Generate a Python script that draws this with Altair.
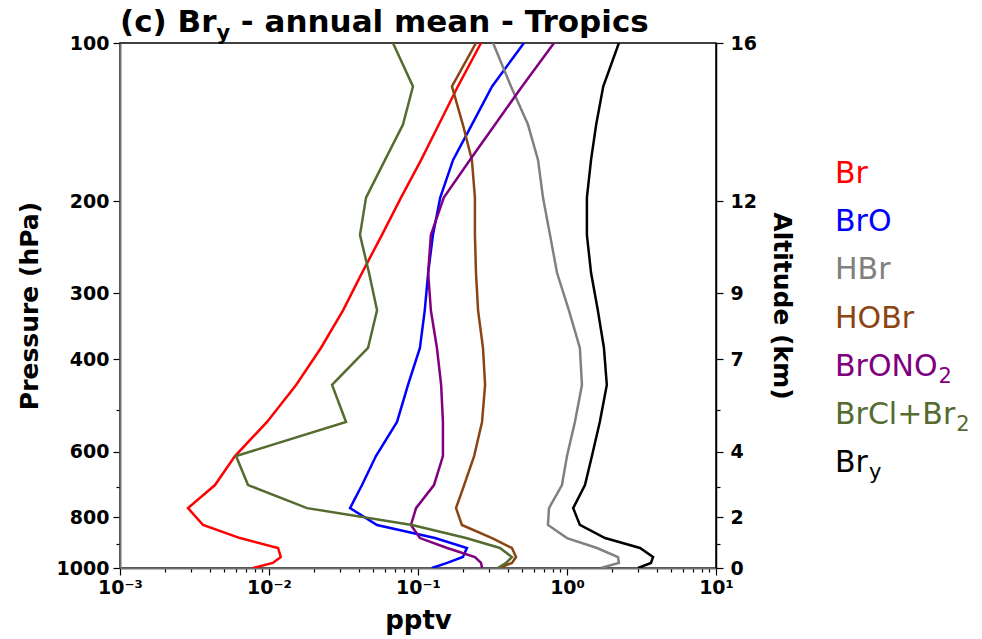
import altair as alt
import pandas as pd

# ---------------- data ----------------
pressure_hpa = [100, 121, 143, 167, 197, 232, 274, 323, 381, 448, 527, 612,
                695, 769, 828, 877, 916, 953, 978, 1000]

br = [0.265, 0.185, 0.138, 0.105, 0.0769, 0.0573, 0.0421, 0.0314, 0.0223, 0.0152,
      0.0097, 0.00591, 0.00434, 0.00286, 0.00361, 0.00639, 0.0115, 0.0120, 0.0106, 0.00781]
bro = [0.514, 0.314, 0.230, 0.172, 0.141, 0.126, 0.117, 0.111, 0.103, 0.0857,
       0.0723, 0.0522, 0.0421, 0.0350, 0.0531, 0.130, 0.213, 0.200, 0.157, 0.124]
hbr = [0.319, 0.421, 0.547, 0.639, 0.690, 0.769, 0.857, 1.03, 1.22, 1.26,
       1.13, 1.00, 0.925, 0.757, 0.745, 1.00, 1.59, 2.20, 2.23, 1.69]
hobr = [0.245, 0.169, 0.200, 0.230, 0.241, 0.241, 0.245, 0.253, 0.273, 0.282,
        0.269, 0.238, 0.204, 0.180, 0.197, 0.314, 0.427, 0.455, 0.427, 0.350]
brono2 = [0.818, 0.499, 0.329, 0.223, 0.149, 0.122, 0.117, 0.122, 0.134, 0.143,
          0.147, 0.147, 0.128, 0.0970, 0.0897, 0.103, 0.157, 0.241, 0.265, 0.269]
brcl_br2 = [0.0679, 0.0925, 0.0793, 0.0601, 0.0448, 0.0408, 0.0469, 0.0531, 0.0462, 0.0265,
            0.0329, 0.00601, 0.00723, 0.0180, 0.0912, 0.210, 0.355, 0.427, 0.390, 0.344]
bry = [2.23, 1.75, 1.57, 1.45, 1.36, 1.36, 1.45, 1.61, 1.77, 1.85,
       1.66, 1.47, 1.32, 1.10, 1.22, 1.80, 3.09, 3.78, 3.66, 3.00]

species = ["Br", "BrO", "HBr", "HOBr", "BrONO2", "BrCl+Br2", "Bry"]
series = [br, bro, hbr, hobr, brono2, brcl_br2, bry]
# legend label = main part + subscript part
legend_main = ["Br", "BrO", "HBr", "HOBr", "BrONO", "BrCl+Br", "Br"]
legend_sub = ["", "", "", "", "2", "2", "y"]
colors = ["#ff0000", "#0000ff", "#808080", "#8b4513", "#800080", "#556b2f", "#000000"]

x_major = [0.001, 0.01, 0.1, 1, 10]
x_major_labels = ["10\u207b\u00b3", "10\u207b\u00b2", "10\u207b\u00b9", "10\u2070", "10\u00b9"]
x_minor_mult = [2, 3, 4, 5, 6, 7, 8, 9]

p_major = [100, 200, 300, 400, 600, 800, 1000]
p_minor = [500, 700, 900]
alt_km = [16, 12, 9, 7, 4, 2, 0]

title_main = "(c) Br"
title_sub = "y"
title_rest = "- annual mean - Tropics"

# ---------------- build table ----------------
rows = []
for name, vals in zip(species, series):
    for i, (p, v) in enumerate(zip(pressure_hpa, vals)):
        rows.append({"species": name, "p": p, "v": v, "i": i})
df = pd.DataFrame(rows)

FONT = "DejaVu Sans"
W, H = 596, 525

x_vals = list(x_major)
for d in x_major[:-1]:
    for m in x_minor_mult:
        x_vals.append(round(m * d, 6))
x_label_expr = " : ".join(
    f"datum.value == {v} ? '{l}'" for v, l in zip(x_major, x_major_labels)
) + " : ''"
x_major_test = "indexof([" + ",".join(str(v) for v in x_major) + "], datum.value) >= 0"

y_vals = sorted(p_major + p_minor)
y_major_test = "indexof([" + ",".join(str(v) for v in p_major) + "], datum.value) >= 0"
left_label_expr = f"{y_major_test} ? datum.label : ''"
right_label_expr = " : ".join(
    f"datum.value == {p} ? '{k}'" for p, k in zip(p_major, alt_km)
) + " : ''"

x_scale = alt.Scale(type="log", domain=[0.001, 10], nice=False)
y_scale = alt.Scale(type="log", domain=[100, 1000], reverse=True, nice=False)

lines = alt.Chart(df).mark_line(strokeWidth=2.5, clip=True).encode(
    x=alt.X("v:Q", scale=x_scale, title="pptv",
            axis=alt.Axis(values=x_vals, labelExpr=x_label_expr,
                          tickSize={"condition": {"test": x_major_test, "value": 7}, "value": 4},
                          labelFontSize=19, labelFontWeight="bold", labelPadding=3,
                          titleFontSize=26, titleFontWeight="bold", titlePadding=10,
                          domainColor="#707070", domainWidth=2, tickColor="#000000",
                          tickWidth=1.2, grid=False, labelFlush=False, labelOverlap=False)),
    y=alt.Y("p:Q", scale=y_scale, title="Pressure (hPa)",
            axis=alt.Axis(values=y_vals, format="d", labelExpr=left_label_expr,
                          tickSize={"condition": {"test": y_major_test, "value": 7}, "value": 4},
                          labelFontSize=19, labelFontWeight="bold", labelPadding=4,
                          titleFontSize=25, titleFontWeight="bold", titlePadding=14,
                          domainColor="#707070", domainWidth=2, tickColor="#000000",
                          tickWidth=1.2, grid=False, labelOverlap=False)),
    color=alt.Color("species:N", scale=alt.Scale(domain=species, range=colors), legend=None),
    order=alt.Order("i:Q"),
    detail="species:N",
)

right_axis = alt.Chart(df).mark_line(opacity=0).encode(
    x=alt.X("v:Q", scale=x_scale),
    y=alt.Y("p:Q", scale=y_scale, title="Altitude (km)",
            axis=alt.Axis(orient="right", values=y_vals, labelExpr=right_label_expr,
                          tickSize={"condition": {"test": y_major_test, "value": 7}, "value": 4},
                          labelFontSize=19, labelFontWeight="bold", labelPadding=7,
                          titleFontSize=25, titleFontWeight="bold", titlePadding=12,
                          domainColor="#000000", domainWidth=1.5, tickColor="#000000",
                          tickWidth=1.2, grid=False, labelOverlap=False)),
    order=alt.Order("i:Q"),
    detail="species:N",
)

one = pd.DataFrame({"k": [0]})

def txt(s, x, y, size, weight="normal", color="#000000"):
    return alt.Chart(one).mark_text(
        text=s, font=FONT, fontSize=size, fontWeight=weight, color=color,
        align="left", baseline="alphabetic"
    ).encode(x=alt.value(x), y=alt.value(y))

# approximate advance widths (em) of DejaVu Sans glyphs used for placing subscripts
BOLD_W = {"(": .457, "c": .592, ")": .457, " ": .348, "B": .762, "r": .493, "y": .652}
REG_W = {"B": .686, "r": .411, "O": .787, "N": .748, "C": .698, "l": .278, "+": .838}

# title (with subscript y)
title_size = 31
sub_size = 21
t1_w = sum(BOLD_W[ch] for ch in title_main) * title_size
t3_x = t1_w + BOLD_W["y"] * sub_size + BOLD_W[" "] * title_size
title_layers = [
    txt(title_main, 0, -11, title_size, "bold"),
    txt(title_sub, t1_w, -3, sub_size, "bold"),
    txt(title_rest, t3_x, -11, title_size, "bold"),
]

# legend as coloured labels
leg_layers = []
for i, (lab, sub, col) in enumerate(zip(legend_main, legend_sub, colors)):
    yb = 140 + 48.2 * i
    leg_layers.append(txt(lab, 715, yb, 30, "normal", col))
    if sub:
        w = sum(REG_W[ch] for ch in lab) * 30
        leg_layers.append(txt(sub, 715 + w + 1, yb + 7, 21, "normal", col))

chart = alt.layer(lines, right_axis, *title_layers, *leg_layers).resolve_scale(
    y="independent"
).properties(
    width=W, height=H,
    padding={"left": 120, "top": 43, "right": 266, "bottom": 71},
    autosize=alt.AutoSizeParams(type="none"),
).configure(font=FONT).configure_view(
    stroke="#000000", strokeWidth=1.5
).configure_axis(labelFont=FONT, titleFont=FONT, labelColor="#000000", titleColor="#000000")

chart.save("out.html", embed_options={"renderer": "svg", "actions": False})
